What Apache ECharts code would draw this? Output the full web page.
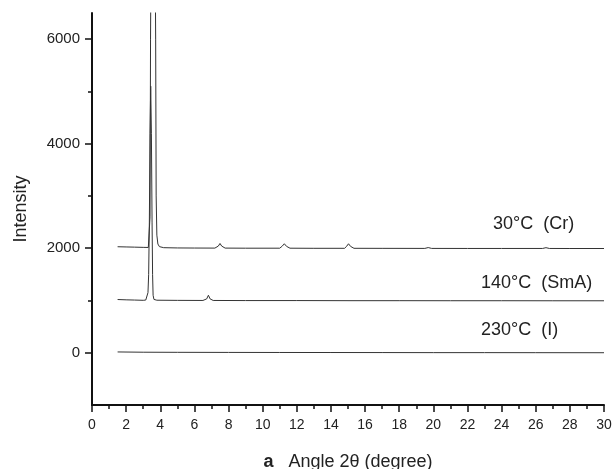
<!DOCTYPE html>
<html>
<head>
<meta charset="utf-8">
<script src="https://cdn.jsdelivr.net/npm/echarts@6/dist/echarts.min.js"></script>
<style>
  html, body { margin: 0; padding: 0; background: #fff; }
  #main { width: 615px; height: 469px; }
</style>
</head>
<body>
<div id="main"></div>
<script>
// 30°C (Cr) trace, [2theta, intensity]
var crystal = [
  [1.5, 2028], [2.0, 2024], [2.5, 2020], [3.0, 2016], [3.3, 2014], [3.37, 2030],
  [3.4, 2600], [3.43, 6000], [3.5, 10000], [3.58, 12000], [3.66, 10000], [3.73, 6000],
  [3.76, 3000], [3.8, 2250], [3.86, 2080], [3.95, 2030], [4.2, 2010], [5, 2005],
  [6, 2003], [7.2, 2002], [7.4, 2040], [7.5, 2090], [7.6, 2040], [7.8, 2002],
  [9, 2000], [11.0, 2000], [11.15, 2040], [11.27, 2085], [11.4, 2035], [11.6, 2000],
  [13, 1998], [14.8, 1998], [14.93, 2040], [15.03, 2085], [15.15, 2035], [15.35, 1998],
  [17, 1997], [19.5, 1996], [19.7, 2012], [19.9, 1996], [22, 1995], [24, 1995],
  [26.4, 1995], [26.6, 2010], [26.8, 1995], [28, 1994], [30, 1994]
];
// 140°C (SmA)
var smectic = [
  [1.5, 1018], [2, 1012], [2.5, 1008], [3, 1003], [3.15, 1008], [3.22, 1040],
  [3.28, 1150], [3.32, 1500], [3.36, 2500], [3.4, 4200], [3.44, 5100], [3.48, 4200],
  [3.52, 2500], [3.55, 1500], [3.58, 1100], [3.63, 1020], [3.8, 1005], [5, 1002],
  [6.5, 1000], [6.72, 1030], [6.82, 1100], [6.92, 1030], [7.1, 1000], [9, 998],
  [12, 998], [15, 996], [18, 996], [21, 995], [24, 995], [27, 994], [30, 994]
];
// 230°C (I)
var isotropic = [
  [1.5, 15], [3, 10], [5, 8], [8, 6], [11, 5], [14, 4], [17, 3],
  [20, 2], [23, 2], [26, 1], [30, 0]
];

var yMajor = [0, 2000, 4000, 6000];
var yMinor = [1000, 3000, 5000];
var traceNames = ['30°C  (Cr)', '140°C  (SmA)', '230°C  (I)'];

var font = 'Liberation Sans, Arial, sans-serif';
var chart = echarts.init(document.getElementById('main'));

function line(data) {
  return {
    type: 'line',
    data: data,
    showSymbol: false,
    clip: true,
    lineStyle: { color: '#333', width: 1 }
  };
}

function label(text, x, y) {
  return {
    type: 'text', x: x, y: y,
    style: { text: text, font: '18px ' + font, fill: '#222', verticalAlign: 'middle' }
  };
}

chart.setOption({
  animation: false,
  grid: { left: 92, right: 11, top: 13, bottom: 64, containLabel: false, outerBoundsMode: 'none' },
  xAxis: {
    type: 'value',
    min: 0,
    max: 30,
    interval: 2,
    name: '{b|a}   Angle 2θ (degree)',
    nameLocation: 'middle',
    nameGap: 48,
    nameTextStyle: {
      fontFamily: font, fontSize: 18, color: '#222',
      rich: { b: { fontFamily: font, fontSize: 18, fontWeight: 'bold', color: '#222' } }
    },
    axisLine: { onZero: false, lineStyle: { color: '#111', width: 2 } },
    axisTick: { length: 7, lineStyle: { color: '#111', width: 1.5 } },
    minorTick: { show: true, splitNumber: 2, length: 4, lineStyle: { color: '#111', width: 1.5 } },
    axisLabel: { fontFamily: font, fontSize: 14, color: '#222', margin: 13 },
    splitLine: { show: false }
  },
  yAxis: [{
    type: 'value',
    position: 'left',
    min: -1000,
    max: 6500,
    name: 'Intensity',
    nameLocation: 'middle',
    nameGap: 62,
    nameTextStyle: { fontFamily: font, fontSize: 18, color: '#222' },
    axisLine: { show: true, onZero: false, lineStyle: { color: '#111', width: 2 } },
    axisTick: { show: true, length: 7, customValues: yMajor, lineStyle: { color: '#111', width: 1.5 } },
    axisLabel: {
      customValues: yMajor, fontFamily: font, fontSize: 15, color: '#222', margin: 12,
      formatter: function (v) { return String(v); }
    },
    splitLine: { show: false }
  }, {
    type: 'value',
    position: 'left',
    min: -1000,
    max: 6500,
    axisLine: { show: false, onZero: false },
    axisTick: { show: true, length: 4, customValues: yMinor, lineStyle: { color: '#111', width: 1.5 } },
    axisLabel: { show: false },
    splitLine: { show: false }
  }],
  graphic: [
    label(traceNames[0], 493, 224),
    label(traceNames[1], 481, 283),
    label(traceNames[2], 481, 330)
  ],
  series: [line(crystal), line(smectic), line(isotropic)]
});
</script>
</body>
</html>
